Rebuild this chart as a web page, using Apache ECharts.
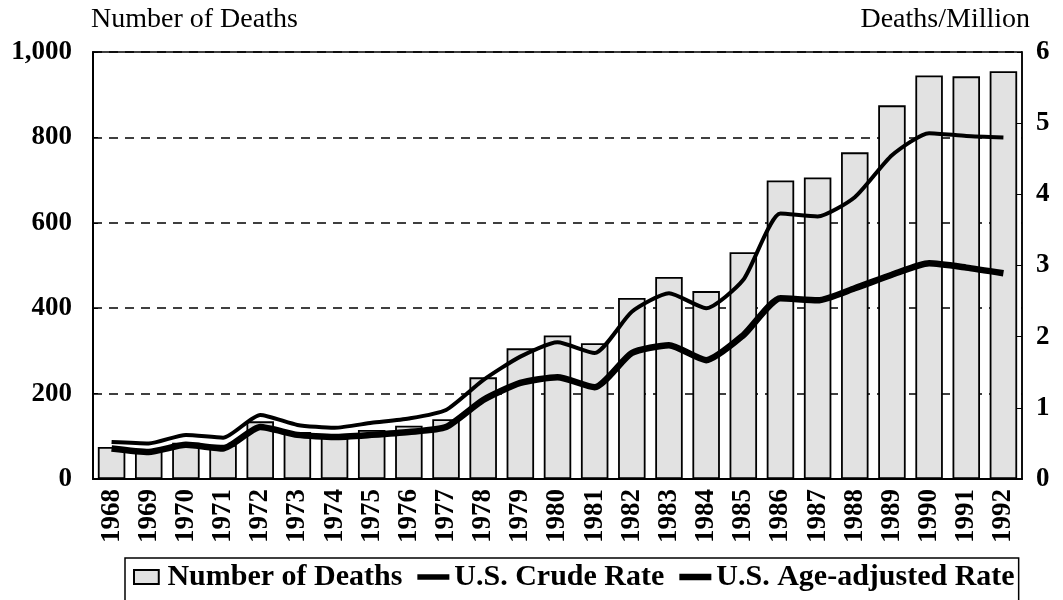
<!DOCTYPE html>
<html>
<head>
<meta charset="utf-8">
<script src="https://cdn.jsdelivr.net/npm/echarts@6/dist/echarts.min.js"></script>
<style>
  html, body { margin: 0; padding: 0; background: #fff; }
  #chart { width: 1063px; height: 600px; }
</style>
</head>
<body>
<div id="chart"></div>
<script>
// years on the x axis
var years = ['1968','1969','1970','1971','1972','1973','1974','1975','1976','1977','1978','1979','1980',
             '1981','1982','1983','1984','1985','1986','1987','1988','1989','1990','1991','1992'];
// bars, left axis
var deaths = [75, 70, 85, 80, 135, 110, 105, 115, 125, 140, 238, 306, 336,
              318, 424, 473, 440, 531, 699, 706, 765, 875, 945, 943, 955];
// lines, right axis (deaths per million)
var crudeRate = [0.52, 0.50, 0.62, 0.58, 0.90, 0.76, 0.72, 0.79, 0.85, 0.97, 1.39, 1.72, 1.92,
                 1.77, 2.35, 2.61, 2.40, 2.80, 3.73, 3.69, 3.96, 4.55, 4.86, 4.82, 4.80];
var ageRate = [0.43, 0.38, 0.48, 0.43, 0.73, 0.62, 0.59, 0.62, 0.66, 0.73, 1.11, 1.35, 1.43,
               1.29, 1.77, 1.88, 1.67, 2.02, 2.54, 2.51, 2.68, 2.87, 3.03, 2.97, 2.89];
var leftTicks = {min: 0, max: 1000, interval: 200};
var rightTicks = {min: 0, max: 6, interval: 1};

var serif = '"Liberation Serif", "DejaVu Serif", serif';

var myChart = echarts.init(document.getElementById('chart'));
var option = {
    animation: false,
    grid: {
        left: 93, right: 41, top: 52, bottom: 121,
        show: true, borderColor: '#000', borderWidth: 1.5
    },
    legend: {
        left: 125, top: 558,
        padding: [4, 4, 20, 8],
        borderColor: '#000', borderWidth: 1.5,
        itemWidth: 32, itemHeight: 14, itemGap: 15,
        textStyle: {fontFamily: serif, fontWeight: 'bold', fontSize: 30, color: '#000'},
        data: [
            {name: 'Number of Deaths', icon: 'path://M0,0H23V13H0Z'},
            {name: 'U.S. Crude Rate', icon: 'path://M0,0H23V4H0Z'},
            {name: 'U.S. Age-adjusted Rate', icon: 'path://M0,0H35V7H0Z'}
        ]
    },
    xAxis: {
        type: 'category',
        data: years,
        axisLine: {lineStyle: {color: '#000', width: 2}},
        axisTick: {show: false},
        axisLabel: {
            rotate: 90, margin: 10, color: '#000',
            fontFamily: serif, fontWeight: 'bold', fontSize: 27
        }
    },
    yAxis: [{
        type: 'value',
        min: leftTicks.min, max: leftTicks.max, interval: leftTicks.interval,
        name: 'Number of Deaths',
        nameGap: 18,
        nameTextStyle: {fontFamily: serif, fontSize: 28, color: '#000', align: 'left', padding: [0, 0, 0, -2]},
        axisLine: {show: true, lineStyle: {color: '#000', width: 2}},
        axisTick: {show: true, inside: true, length: 5, lineStyle: {color: '#000'}},
        axisLabel: {
            margin: 21, color: '#000', fontFamily: serif, fontWeight: 'bold', fontSize: 27,
            padding: [0, 0, 14, 0],
            formatter: function (v) { return v.toLocaleString('en-US'); }
        },
        splitLine: {show: true, lineStyle: {color: '#000', width: 1.5, type: [9, 7]}}
    }, {
        type: 'value',
        min: rightTicks.min, max: rightTicks.max, interval: rightTicks.interval,
        name: 'Deaths/Million',
        nameGap: 18,
        nameTextStyle: {fontFamily: serif, fontSize: 28, color: '#000', align: 'right', padding: [0, -8, 0, 0]},
        axisLine: {show: true, lineStyle: {color: '#000', width: 1.5}},
        axisTick: {show: true, inside: true, length: 5, lineStyle: {color: '#000'}},
        axisLabel: {
            margin: 14, color: '#000', fontFamily: serif, fontWeight: 'bold', fontSize: 27,
            padding: [0, 0, 14, 0]
        },
        splitLine: {show: false}
    }],
    series: [{
        name: 'Number of Deaths',
        type: 'bar',
        data: deaths,
        barCategoryGap: '26%',
        itemStyle: {color: '#e2e2e2', borderColor: '#000', borderWidth: 1.8}
    }, {
        name: 'U.S. Crude Rate',
        type: 'line',
        yAxisIndex: 1,
        data: crudeRate,
        smooth: 0.2,
        showSymbol: false,
        itemStyle: {color: '#000'},
        lineStyle: {color: '#000', width: 4}
    }, {
        name: 'U.S. Age-adjusted Rate',
        type: 'line',
        yAxisIndex: 1,
        data: ageRate,
        smooth: 0.2,
        showSymbol: false,
        itemStyle: {color: '#000'},
        lineStyle: {color: '#000', width: 6.5}
    }]
};
myChart.setOption(option);
</script>
</body>
</html>
